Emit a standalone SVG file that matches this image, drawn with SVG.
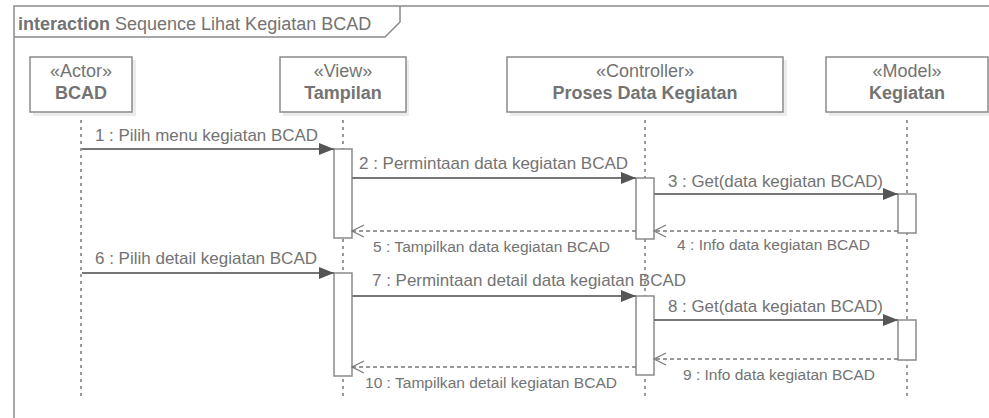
<svg xmlns="http://www.w3.org/2000/svg" width="989" height="418" viewBox="0 0 989 418">
<defs>
<marker id="filled" markerWidth="16" markerHeight="12" refX="15" refY="6" orient="auto" markerUnits="userSpaceOnUse">
<path d="M0,0 L15,6 L0,12 Z" fill="#555"/>
</marker>
<marker id="open" markerWidth="16" markerHeight="14" refX="13" refY="7" orient="auto" markerUnits="userSpaceOnUse">
<path d="M1,1 L13,7 L1,13" fill="none" stroke="#777" stroke-width="1.2"/>
</marker>
</defs>
<style>
text{font-family:"Liberation Sans",Arial,sans-serif;fill:#737373}
.frame{fill:none;stroke:#8a8a8a;stroke-width:1.5}
.box{fill:#fff;stroke:#8a8a8a;stroke-width:1.5}
.shadow{fill:#ececec}
.life{stroke:#555;stroke-width:1.2;stroke-dasharray:3,4;fill:none}
.act{fill:#fff;stroke:#8a8a8a;stroke-width:1.5}
.call{stroke:#777;stroke-width:1.8;fill:none;marker-end:url(#filled)}
.ret{stroke:#777;stroke-width:1.5;stroke-dasharray:4,3;fill:none;marker-end:url(#open)}
.st{font-size:18px;text-anchor:middle}
.nm{font-size:18px;font-weight:bold;text-anchor:middle}
.cl{font-size:17px}
.rl{font-size:15.5px}
</style>
<rect width="989" height="418" fill="#fff"/>
<g id="frame">
<rect class="frame" x="14" y="6" width="990" height="430"/>
<path class="frame" d="M14,37 L385,37 L400,22 L400,6"/>
<text x="18" y="30" style="font-size:18px"><tspan font-weight="bold">interaction</tspan> Sequence Lihat Kegiatan BCAD</text>
</g>
<g id="lifelines">
<line class="life" x1="81" y1="113" x2="81" y2="400"/>
<line class="life" x1="343" y1="113" x2="343" y2="400"/>
<line class="life" x1="645" y1="113" x2="645" y2="400"/>
<line class="life" x1="907" y1="113" x2="907" y2="400"/>
</g>
<g id="node-bcad">
<rect class="shadow" x="33" y="60" width="103" height="56"/>
<rect class="box" x="30" y="57" width="102" height="55"/>
<text class="st" x="81" y="77">«Actor»</text>
<text class="nm" x="81" y="99">BCAD</text>
</g>
<g id="node-tampilan">
<rect class="shadow" x="283" y="60" width="126" height="56"/>
<rect class="box" x="280" y="57" width="126" height="55"/>
<text class="st" x="343" y="77">«View»</text>
<text class="nm" x="343" y="99">Tampilan</text>
</g>
<g id="node-proses">
<rect class="shadow" x="510" y="60" width="277" height="56"/>
<rect class="box" x="507" y="57" width="276" height="55"/>
<text class="st" x="645" y="77">«Controller»</text>
<text class="nm" x="645" y="99">Proses Data Kegiatan</text>
</g>
<g id="node-kegiatan">
<rect class="shadow" x="829" y="60" width="164" height="56"/>
<rect class="box" x="826" y="57" width="162" height="55"/>
<text class="st" x="907" y="77">«Model»</text>
<text class="nm" x="907" y="99">Kegiatan</text>
</g>
<g id="activations">
<rect class="act" x="334" y="149" width="18" height="89"/>
<rect class="act" x="636" y="178" width="18" height="61"/>
<rect class="act" x="898" y="194" width="18" height="39"/>
<rect class="act" x="334" y="273" width="18" height="103"/>
<rect class="act" x="636" y="296" width="18" height="79"/>
<rect class="act" x="898" y="320" width="18" height="40"/>
</g>
<g id="connectors">
<line class="call" x1="82" y1="149" x2="334" y2="149"/>
<line class="call" x1="352" y1="178" x2="636" y2="178"/>
<line class="call" x1="654" y1="194" x2="898" y2="194"/>
<line class="ret" x1="898" y1="231" x2="654" y2="231"/>
<line class="ret" x1="636" y1="231" x2="352" y2="231"/>
<line class="call" x1="82" y1="273" x2="334" y2="273"/>
<line class="call" x1="352" y1="296" x2="636" y2="296"/>
<line class="call" x1="654" y1="320" x2="898" y2="320"/>
<line class="ret" x1="898" y1="359" x2="654" y2="359"/>
<line class="ret" x1="636" y1="367" x2="352" y2="367"/>
</g>
<g id="labels">
<text class="cl" x="95" y="141" textLength="223" lengthAdjust="spacingAndGlyphs">1 : Pilih menu kegiatan BCAD</text>
<text class="cl" x="359" y="169" textLength="269" lengthAdjust="spacingAndGlyphs">2 : Permintaan data kegiatan BCAD</text>
<text class="cl" x="668" y="187" textLength="215" lengthAdjust="spacingAndGlyphs">3 : Get(data kegiatan BCAD)</text>
<text class="rl" x="677" y="250" textLength="193" lengthAdjust="spacingAndGlyphs">4 : Info data kegiatan BCAD</text>
<text class="rl" x="373" y="252" textLength="237" lengthAdjust="spacingAndGlyphs">5 : Tampilkan data kegiatan BCAD</text>
<text class="cl" x="95" y="264" textLength="222" lengthAdjust="spacingAndGlyphs">6 : Pilih detail kegiatan BCAD</text>
<text class="cl" x="372" y="286" textLength="314" lengthAdjust="spacingAndGlyphs">7 : Permintaan detail data kegiatan BCAD</text>
<text class="cl" x="668" y="312" textLength="215" lengthAdjust="spacingAndGlyphs">8 : Get(data kegiatan BCAD)</text>
<text class="rl" x="683" y="380" textLength="192" lengthAdjust="spacingAndGlyphs">9 : Info data kegiatan BCAD</text>
<text class="rl" x="365" y="388" textLength="252" lengthAdjust="spacingAndGlyphs">10 : Tampilkan detail kegiatan BCAD</text>
</g>
</svg>
